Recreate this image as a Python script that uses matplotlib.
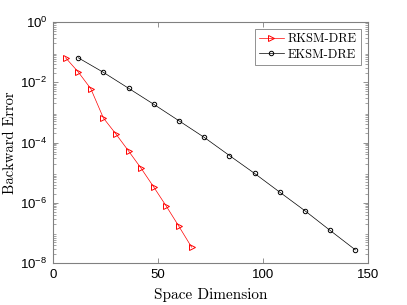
import numpy as np
import matplotlib
matplotlib.use("Agg")
import matplotlib.pyplot as plt
from matplotlib.ticker import LogLocator, NullFormatter

# data
rksm_dim = [6, 12, 18, 24, 30, 36, 42, 48, 54, 60, 66]
rksm_err = [6.5e-2, 2.2e-2, 6.1e-3, 6.5e-4, 1.9e-4, 5.2e-5,
            1.38e-5, 3.3e-6, 7.6e-7, 1.63e-7, 3.35e-8]

eksm_dim = [12, 24, 36, 48, 60, 72, 84, 96, 108, 120, 132, 144]
eksm_err = [6.5e-2, 2.13e-2, 6.3e-3, 1.85e-3, 5.25e-4, 1.48e-4,
            3.7e-5, 9.4e-6, 2.24e-6, 5.4e-7, 1.2e-7, 2.72e-8]

axis_gray = "#808080"
tick_font = "Liberation Sans"
label_font = "cmr10"

fig = plt.figure(figsize=(4.07, 3.05), dpi=100)
ax = fig.add_axes([53 / 407, 1 - 263 / 305, (368 - 53) / 407, (263 - 22) / 305])

ax.semilogy(rksm_dim, rksm_err, color="red", lw=0.5, marker=">",
            ms=3.8, mfc="none", mew=0.7, label="RKSM-DRE")
ax.semilogy(eksm_dim, eksm_err, color="black", lw=0.5, marker="o",
            ms=3.2, mfc="none", mew=0.7, label="EKSM-DRE")

ax.set_xlim(0, 150)
ax.set_ylim(1e-8, 1)
ax.set_xticks([0, 50, 100, 150])
ax.set_yticks([1e-8, 1e-6, 1e-4, 1e-2, 1])
ax.yaxis.set_minor_locator(LogLocator(base=10, subs=np.arange(2, 10), numticks=20))
ax.yaxis.set_minor_formatter(NullFormatter())

for s in ax.spines.values():
    s.set_color(axis_gray)
    s.set_linewidth(0.8)
ax.tick_params(which="both", direction="in", top=True, right=True,
               color=axis_gray, labelcolor="black")
ax.tick_params(which="major", length=3.5, width=0.6, labelsize=9.5, pad=4)
ax.tick_params(which="minor", length=2, width=0.5)
for lab in ax.get_xticklabels() + ax.get_yticklabels():
    lab.set_fontfamily(tick_font)

ax.set_xlabel("Space Dimension", fontfamily=label_font, fontsize=11, labelpad=5.5)
ax.set_ylabel("Backward Error", fontfamily=label_font, fontsize=10.5, labelpad=2)

leg = ax.legend(loc="upper right", prop={"family": label_font, "size": 9},
                fancybox=False, framealpha=1, edgecolor=axis_gray,
                borderpad=0.35, labelspacing=0.25, handlelength=2.0,
                handletextpad=0.3, borderaxespad=0.55)
leg.get_frame().set_linewidth(0.6)

fig.savefig("out.png", dpi=100)
